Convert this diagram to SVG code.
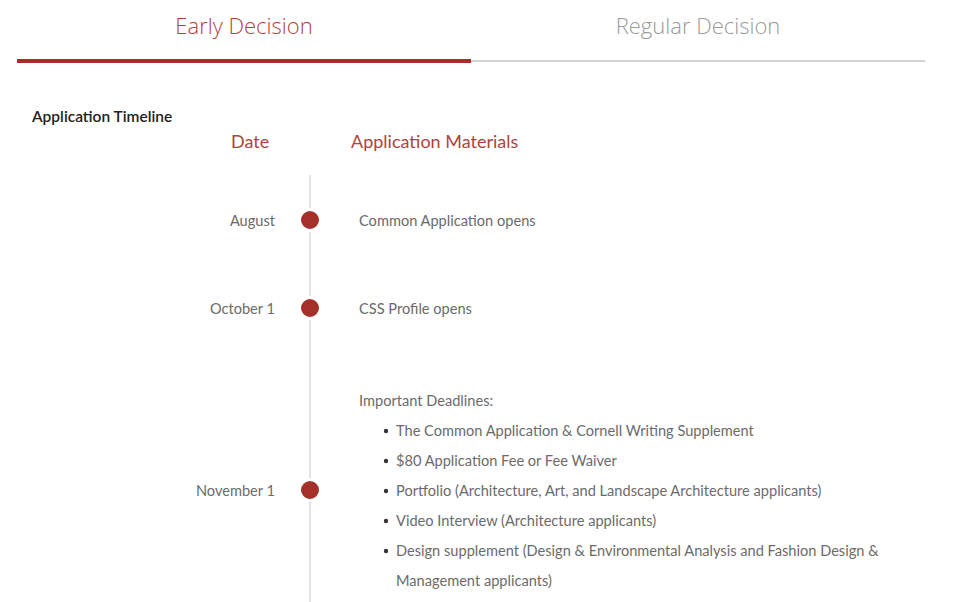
<svg xmlns="http://www.w3.org/2000/svg" width="960" height="602" viewBox="0 0 960 602">
<style>
.tab{font-family:"Open Sans","Liberation Sans",sans-serif;font-weight:300;font-size:22px}
.hd{font-family:"Lato","Open Sans",sans-serif;font-size:18px;fill:#b0433d}
.t{font-family:"Lato","Open Sans",sans-serif;font-size:14.6px;fill:#6b6b6b}
.d{text-anchor:end}
.dot{fill:#a3312a;stroke:#fff;stroke-width:3}
.bul{fill:#333}
</style>
<rect width="960" height="602" fill="#fff"/>
<g id="tabs">
<text class="tab" x="244" y="34" text-anchor="middle" fill="#b5413b">Early Decision</text>
<text class="tab" x="698" y="34" text-anchor="middle" fill="#9a9a9a">Regular Decision</text>
<rect x="471" y="60" width="454" height="2" fill="#d4d4d4"/>
<rect x="17" y="59" width="454" height="4" fill="#a3312a"/>
</g>
<text x="32" y="122" font-family="Lato,'Open Sans',sans-serif" font-size="15.5" font-weight="600" fill="#222">Application Timeline</text>
<text class="hd" x="231" y="148">Date</text>
<text class="hd" x="351" y="148">Application Materials</text>
<g id="connectors">
<line x1="310" y1="175" x2="310" y2="602" stroke="#e2e2e2" stroke-width="2"/>
</g>
<g id="august">
<circle class="dot" cx="310" cy="220" r="10.5"/>
<text class="t d" x="275" y="226">August</text>
<text class="t" x="359" y="226">Common Application opens</text>
</g>
<g id="october1">
<circle class="dot" cx="310" cy="308" r="10.5"/>
<text class="t d" x="275" y="314">October 1</text>
<text class="t" x="359" y="314">CSS Profile opens</text>
</g>
<g id="november1">
<circle class="dot" cx="310" cy="490" r="10.5"/>
<text class="t d" x="275" y="496">November 1</text>
<text class="t" x="359" y="406">Important Deadlines:</text>
<circle class="bul" cx="386" cy="431" r="2.2"/>
<text class="t" x="396" y="436">The Common Application &amp; Cornell Writing Supplement</text>
<circle class="bul" cx="386" cy="461" r="2.2"/>
<text class="t" x="396" y="466">$80 Application Fee or Fee Waiver</text>
<circle class="bul" cx="386" cy="491" r="2.2"/>
<text class="t" x="396" y="496">Portfolio (Architecture, Art, and Landscape Architecture applicants)</text>
<circle class="bul" cx="386" cy="521" r="2.2"/>
<text class="t" x="396" y="526">Video Interview (Architecture applicants)</text>
<circle class="bul" cx="386" cy="551" r="2.2"/>
<text class="t" x="396" y="556">Design supplement (Design &amp; Environmental Analysis and Fashion Design &amp;</text>
<text class="t" x="396" y="586">Management applicants)</text>
</g>
</svg>
